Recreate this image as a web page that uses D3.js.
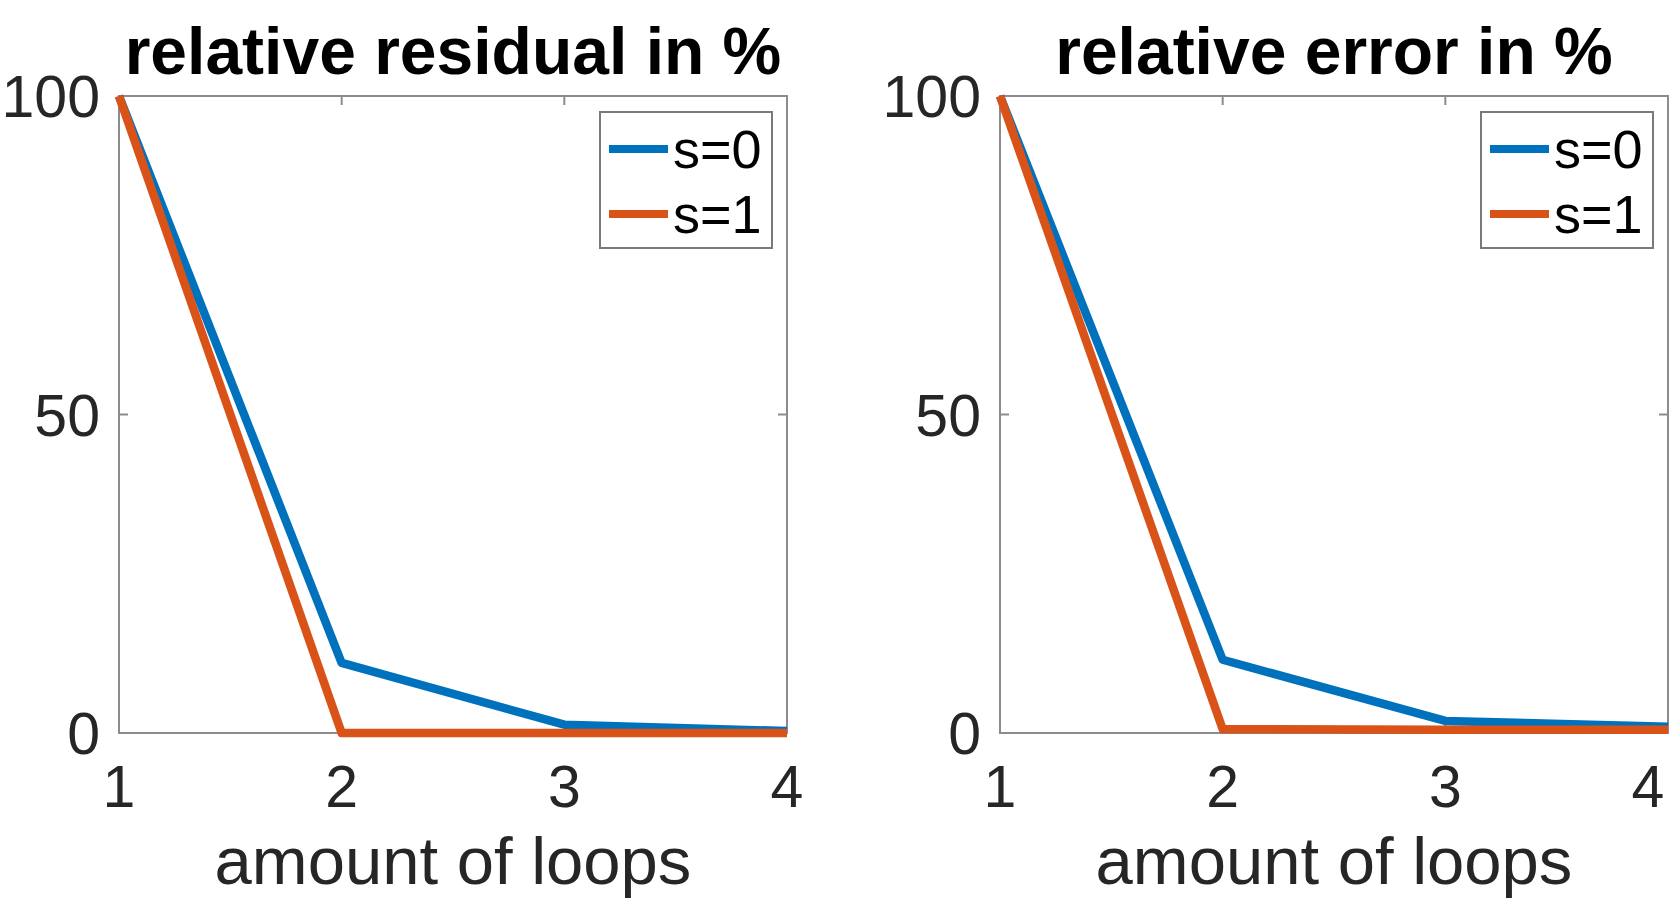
<!DOCTYPE html>
<html>
<head>
<meta charset="utf-8">
<script src="https://cdn.jsdelivr.net/npm/d3@7"></script>
<style>
body { margin: 0; background: #fff; }
text { font-family: "Liberation Sans", Arial, sans-serif; }
</style>
</head>
<body>
<svg></svg>
<script>
// Data
const loops = [1, 2, 3, 4];
const residualS0 = [100, 11, 1.3, 0.3];
const residualS1 = [100, 0, 0, 0];
const errorS0 = [100, 11.5, 1.9, 1.0];
const errorS1 = [100, 0.6, 0.5, 0.5];
const seriesNames = ["s=0", "s=1"];
const seriesColors = ["#0072BD", "#D95319"];
const yTicks = [0, 50, 100];
const titles = ["relative residual in %", "relative error in %"];

const width = 1672;
const height = 900;

const svg = d3.select("svg")
.attr("width", width)
.attr("height", height);

svg.append("rect").attr("width", width).attr("height", height).attr("fill", "#fff");

const panels = [
{ title: titles[0], series: [residualS0, residualS1], left: 119, right: 787 },
{ title: titles[1], series: [errorS0, errorS1], left: 1000, right: 1668 }
];

const plotTop = 96, plotBottom = 733;
const axisColor = "#8c8c8c";
const textColor = "#262626";

panels.forEach(p => {
const x = d3.scaleLinear().domain([1, 4]).range([p.left, p.right]);
const y = d3.scaleLinear().domain([0, 100]).range([plotBottom, plotTop]);
const g = svg.append("g");

// box
g.append("rect")
.attr("x", p.left).attr("y", plotTop)
.attr("width", p.right - p.left).attr("height", plotBottom - plotTop)
.attr("fill", "none").attr("stroke", axisColor).attr("stroke-width", 2);

// ticks (inner)
const tl = 9;
loops.forEach(v => {
g.append("line").attr("x1", x(v)).attr("x2", x(v)).attr("y1", plotTop).attr("y2", plotTop + tl)
.attr("stroke", axisColor).attr("stroke-width", 2);
g.append("line").attr("x1", x(v)).attr("x2", x(v)).attr("y1", plotBottom).attr("y2", plotBottom - tl)
.attr("stroke", axisColor).attr("stroke-width", 2);
});
yTicks.forEach(v => {
g.append("line").attr("x1", p.left).attr("x2", p.left + tl).attr("y1", y(v)).attr("y2", y(v))
.attr("stroke", axisColor).attr("stroke-width", 2);
g.append("line").attr("x1", p.right).attr("x2", p.right - tl).attr("y1", y(v)).attr("y2", y(v))
.attr("stroke", axisColor).attr("stroke-width", 2);
});

// tick labels (last one kept inside the page like in the original)
g.selectAll(".xt").data(loops).enter().append("text")
.attr("x", d => Math.min(x(d), width - 24)).attr("y", 807)
.attr("text-anchor", "middle")
.attr("font-size", 59).attr("fill", textColor)
.text(d => d);
g.selectAll(".yt").data(yTicks).enter().append("text")
.attr("x", p.left - 19).attr("y", d => y(d) + 21)
.attr("text-anchor", "end")
.attr("font-size", 59).attr("fill", textColor)
.text(d => d);

// x label
g.append("text")
.attr("x", (p.left + p.right) / 2).attr("y", 884)
.attr("text-anchor", "middle")
.attr("font-size", 67).attr("fill", textColor)
.text("amount of loops");

// title
g.append("text")
.attr("x", (p.left + p.right) / 2).attr("y", 74)
.attr("text-anchor", "middle")
.attr("font-size", 66).attr("font-weight", "bold").attr("fill", "#000")
.text(p.title);

// lines
const line = d3.line().x((d, i) => x(loops[i])).y(d => y(d));
p.series.forEach((s, i) => {
g.append("path")
.datum(s)
.attr("d", line)
.attr("fill", "none")
.attr("stroke", seriesColors[i])
.attr("stroke-width", 8.5)
.attr("stroke-linejoin", "round");
});

// legend
const lx = p.right - 187, ly = plotTop + 16;
const lg = g.append("g").attr("transform", `translate(${lx},${ly})`);
lg.append("rect").attr("width", 172).attr("height", 136)
.attr("fill", "#fff").attr("stroke", "#7a7a7a").attr("stroke-width", 2);
seriesNames.forEach((n, i) => {
const ry = 37 + i * 65;
lg.append("line").attr("x1", 9).attr("x2", 68).attr("y1", ry).attr("y2", ry)
.attr("stroke", seriesColors[i]).attr("stroke-width", 8);
lg.append("text").attr("x", 73).attr("y", ry + 19)
.attr("font-size", 54).attr("fill", "#000")
.text(n);
});
});
</script>
</body>
</html>
